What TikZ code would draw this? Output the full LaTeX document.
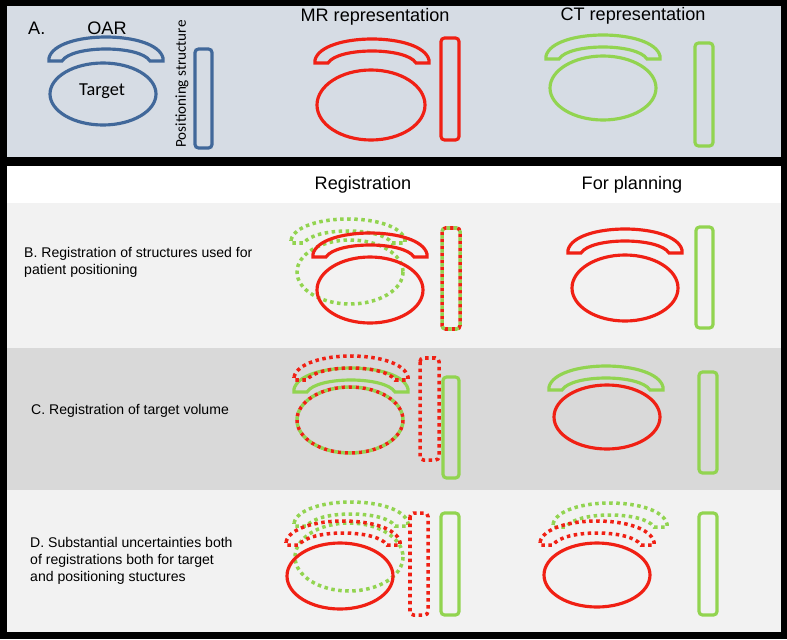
\documentclass[tikz,border=0pt]{standalone}
\usepackage{fontspec}
\setmainfont{Liberation Sans}
\newfontfamily\calfont{Carlito}
\usepackage{tikz}
\usetikzlibrary{positioning}
\definecolor{oarblue}{RGB}{65,104,154}
\definecolor{mrred}{RGB}{240,32,20}
\definecolor{ctgreen}{RGB}{146,212,80}
\definecolor{panelgray}{RGB}{214,220,228}
\definecolor{rowlight}{RGB}{242,242,242}
\definecolor{rowdark}{RGB}{217,217,217}
\tikzstyle{bluesolid} = [draw=oarblue, line width=1.8pt]
\tikzstyle{redsolid} = [draw=mrred, line width=1.8pt]
\tikzstyle{greensolid} = [draw=ctgreen, line width=1.8pt]
\tikzstyle{reddotted} = [draw=mrred, line width=2pt, dash pattern=on 2pt off 2pt]
\tikzstyle{greendotted} = [draw=ctgreen, line width=2pt, dash pattern=on 2pt off 2pt]
\tikzstyle{mixgreen} = [greendotted, dash phase=2pt]
\tikzstyle{posbar} = [rounded corners=2pt]
\tikzstyle{header} = [font=\fontsize{10.3}{12}\selectfont]
\tikzstyle{rowlabel} = [anchor=west, align=left, font=\fontsize{8}{9.6}\selectfont]
\newcommand{\oararc}[3]{\draw[#3] (#1-57,#2-3) .. controls (#1-50,#2-31) and (#1+50,#2-31) .. (#1+57,#2-3) -- (#1+57,#2) -- (#1+44,#2) .. controls (#1+34,#2-16) and (#1-34,#2-16) .. (#1-44,#2) -- (#1-57,#2) -- cycle;}
\newcommand{\target}[3]{\draw[#3] (#1,#2) ellipse [x radius=53, y radius=33];}

\begin{document}
\begin{tikzpicture}[x=0.02cm, y=-0.02cm]
\useasboundingbox (0,0) rectangle (787,639);
\fill[black] (0,0) rectangle (787,639);
\fill[panelgray] (7,6) rectangle (781,157);
\fill[white] (7,166) rectangle (781,203);
\fill[rowlight] (7,203) rectangle (781,348);
\fill[rowdark] (7,348) rectangle (781,490);
\fill[rowlight] (7,490) rectangle (781,632);

\node (a) [header, anchor=west] at (22,28) {A.};
\node (oar) [header] at (107,28) {OAR};
\node (target) [font=\calfont\fontsize{10.4}{12}\selectfont] at (102,91) {Target};
\node (posstruct) [font=\calfont\fontsize{8.6}{10}\selectfont, rotate=90] at (182,84) {Positioning structure};
\node (mr) [header] at (375,17) {MR representation};
\node (ct) [header] at (633,16) {CT representation};
\node (reg) [header] at (363,185) {Registration};
\node (plan) [header] at (632,185) {For planning};
\node (rowb) [rowlabel] at (18,262) {B. Registration of structures used for\\patient positioning};
\node (rowc) [rowlabel] at (25,411) {C. Registration of target volume};
\node (rowd) [rowlabel] at (24,561) {D. Substantial uncertainties both\\of registrations both for target\\and positioning stuctures};

\oararc{106}{61}{bluesolid}
\draw[bluesolid] (103,94) ellipse [x radius=53, y radius=31];
\draw[bluesolid, posbar] (195,49) rectangle (212,148);
\oararc{372}{63}{redsolid}
\draw[redsolid] (371,105) ellipse [x radius=54, y radius=35];
\draw[redsolid, posbar] (441,38) rectangle (459,140);
\oararc{603}{59}{greensolid}
\draw[greensolid] (603,88) ellipse [x radius=53, y radius=32];
\draw[greensolid, posbar] (695,43) rectangle (713,146);

\oararc{348}{243}{greendotted}
\draw[greendotted] (350,272) ellipse [x radius=53, y radius=32];
\oararc{370}{257}{redsolid}
\target{370}{290}{redsolid}
\draw[reddotted, posbar] (442,228) rectangle (460,329);
\draw[mixgreen, posbar] (442,228) rectangle (460,329);
\oararc{625}{253}{redsolid}
\target{625}{288}{redsolid}
\draw[greensolid, posbar] (696,227) rectangle (713,328);

\oararc{351}{392}{greensolid}
\oararc{351}{380}{reddotted}
\target{350}{420}{reddotted}
\target{350}{420}{mixgreen}
\draw[reddotted, posbar] (420,358) rectangle (439,460);
\draw[greensolid, posbar] (443,377) rectangle (459,478);
\oararc{606}{390}{greensolid}
\draw[redsolid] (607,417) ellipse [x radius=53, y radius=32];
\draw[greensolid, posbar] (699,372) rectangle (717,473);

\oararc{351}{526}{greendotted}
\draw[greendotted] (349,557) ellipse [x radius=54, y radius=34];
\oararc{343}{545}{reddotted}
\target{340}{576}{redsolid}
\draw[reddotted, posbar] (410,513) rectangle (428,615);
\draw[greensolid, posbar] (441,513) rectangle (459,615);
\oararc{610}{527}{greendotted}
\oararc{597}{545}{reddotted}
\draw[redsolid] (597,575) ellipse [x radius=53, y radius=32];
\draw[greensolid, posbar] (699,513) rectangle (717,615);
\end{tikzpicture}
\end{document}
